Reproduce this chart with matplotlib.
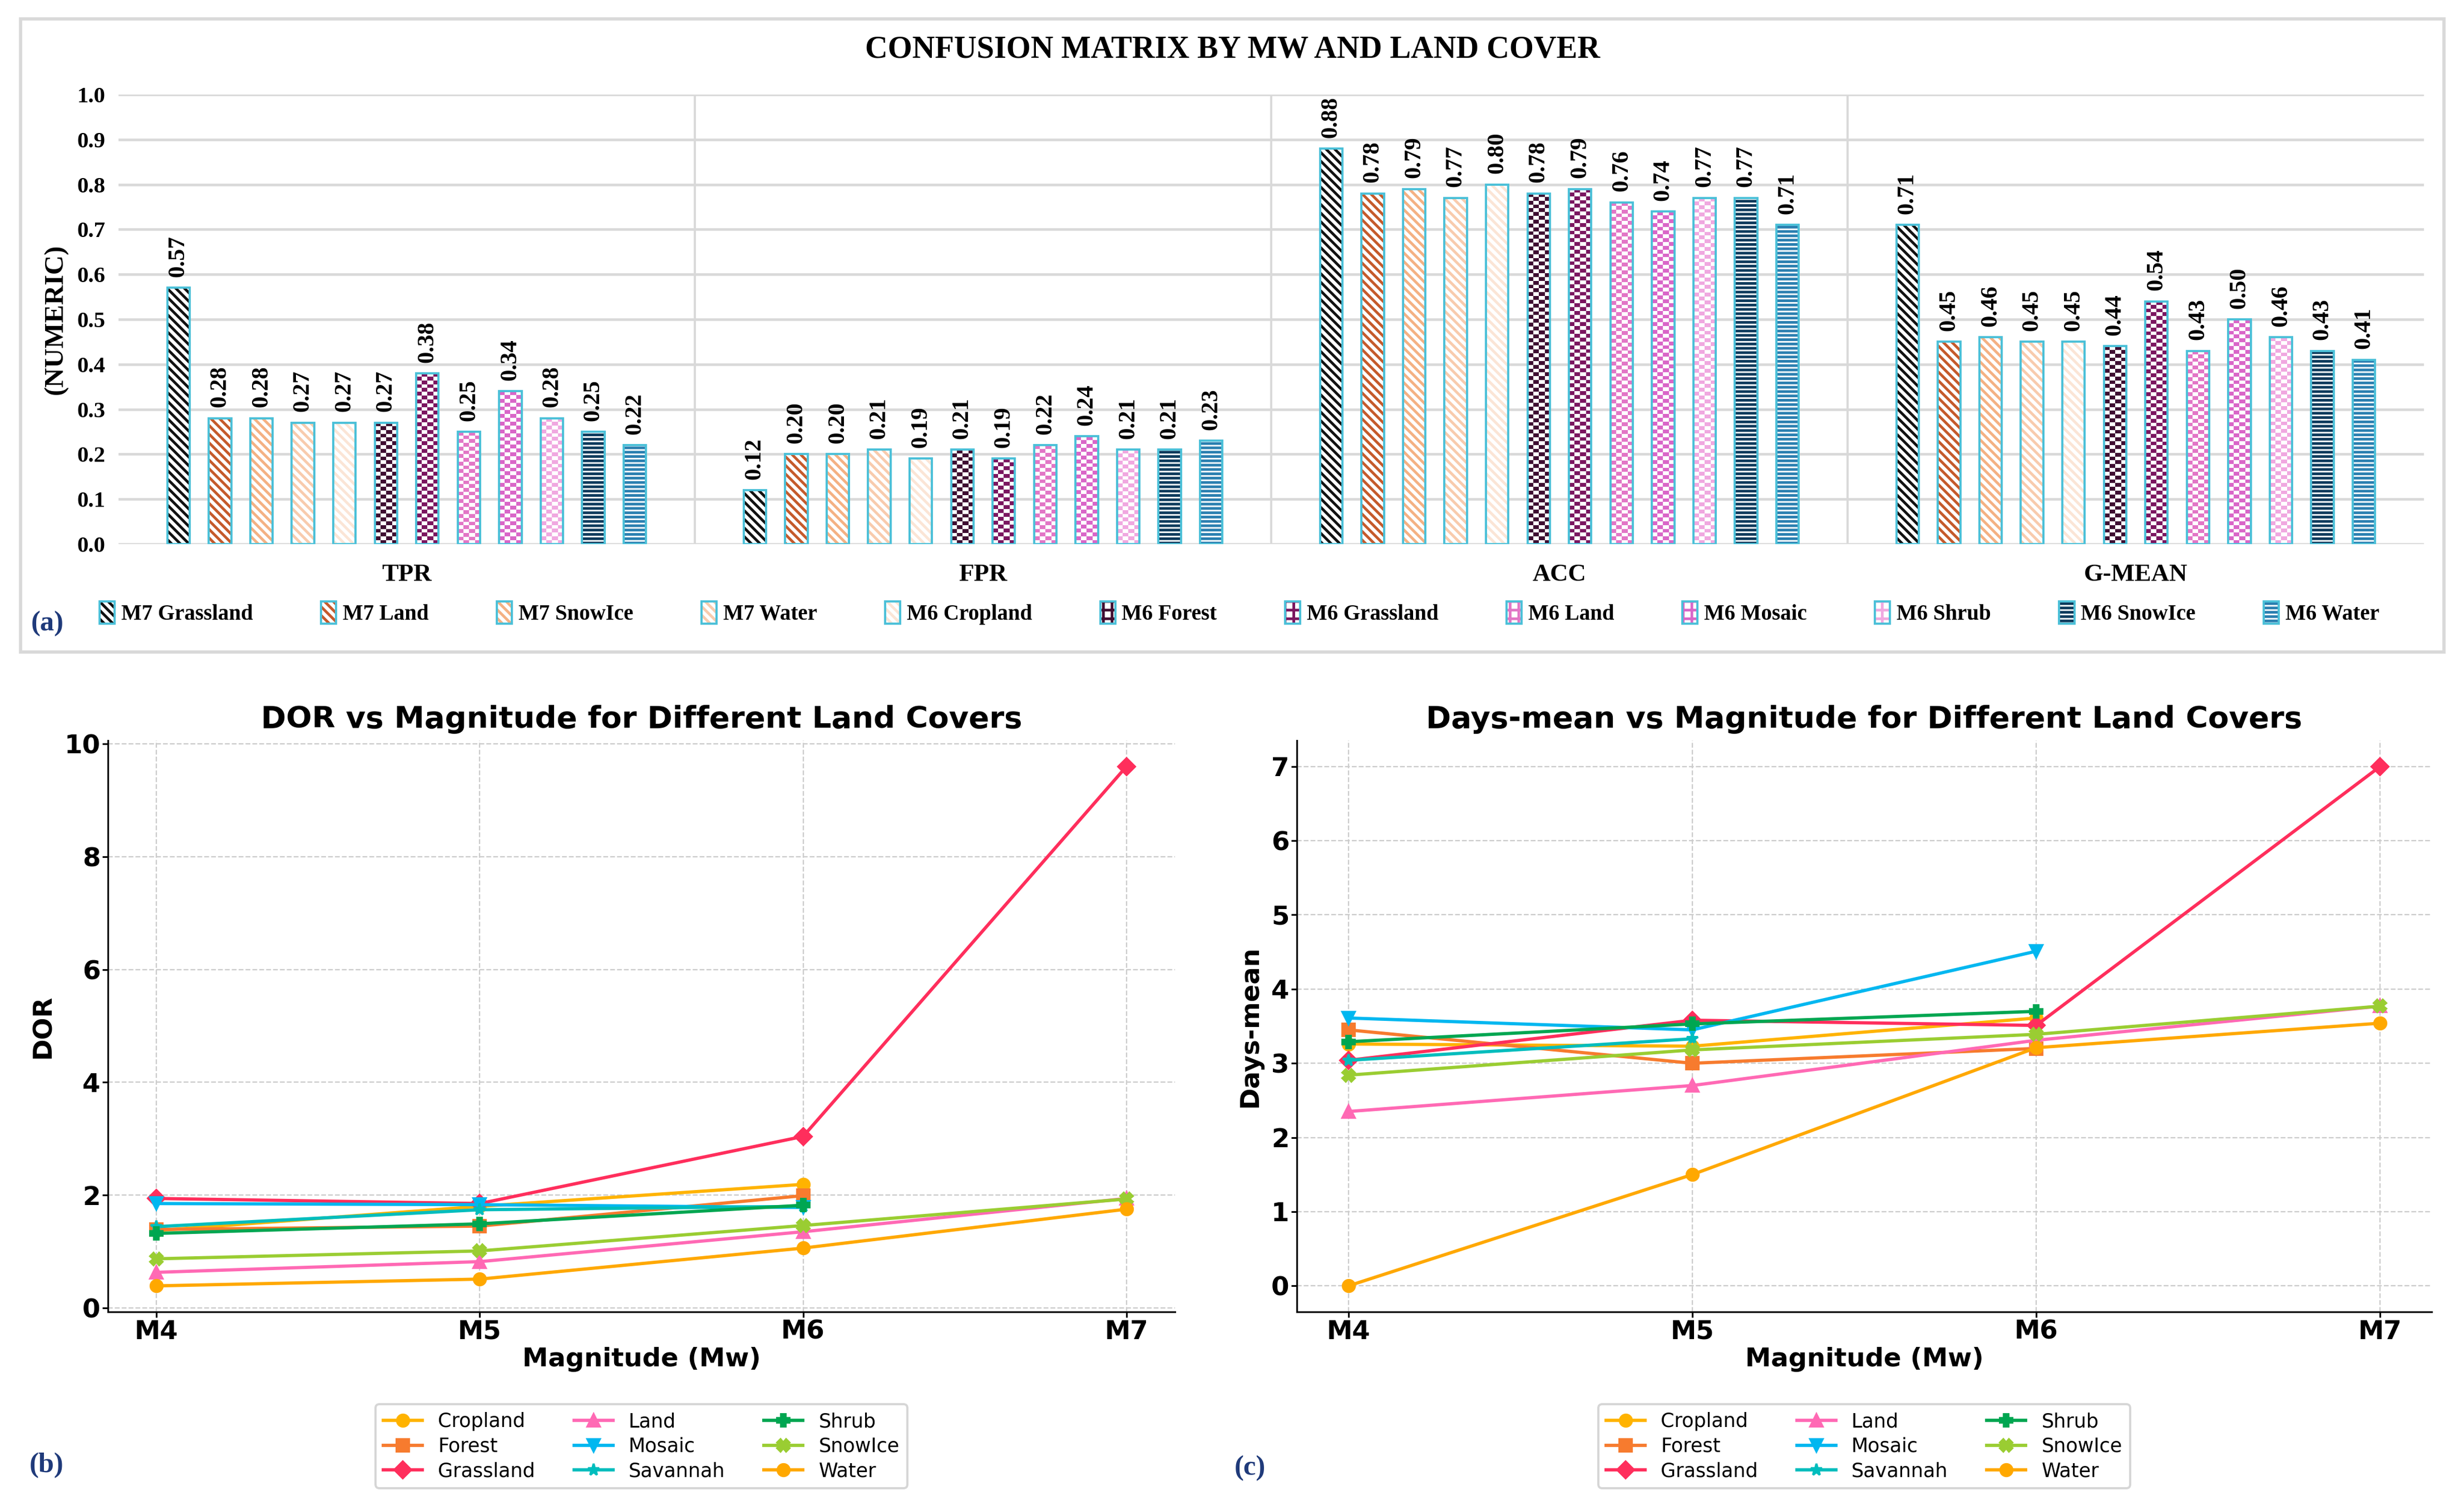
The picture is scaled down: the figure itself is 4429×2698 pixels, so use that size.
import numpy as np
import matplotlib
matplotlib.use('Agg')
import matplotlib.pyplot as plt
from matplotlib.colors import ListedColormap
from matplotlib.patches import Patch, Rectangle

plt.rcParams['hatch.linewidth'] = 1.25
plt.rcParams['font.family'] = ['DejaVu Sans']

W, H, DPI = 4429, 2698, 280

# ---------------- data: panel (a) ----------------
metrics = ['TPR', 'FPR', 'ACC', 'G-MEAN']
series = ['M7 Grassland', 'M7 Land', 'M7 SnowIce', 'M7 Water', 'M6 Cropland', 'M6 Forest',
          'M6 Grassland', 'M6 Land', 'M6 Mosaic', 'M6 Shrub', 'M6 SnowIce', 'M6 Water']
tpr = [0.57, 0.28, 0.28, 0.27, 0.27, 0.27, 0.38, 0.25, 0.34, 0.28, 0.25, 0.22]
fpr = [0.12, 0.20, 0.20, 0.21, 0.19, 0.21, 0.19, 0.22, 0.24, 0.21, 0.21, 0.23]
acc = [0.88, 0.78, 0.79, 0.77, 0.80, 0.78, 0.79, 0.76, 0.74, 0.77, 0.77, 0.71]
gmean = [0.71, 0.45, 0.46, 0.45, 0.45, 0.44, 0.54, 0.43, 0.50, 0.46, 0.43, 0.41]

bar_colors = ['#111111', '#C55A2B', '#F4B183', '#F8CBAD', '#FBE5D6', '#3F0D32',
              '#7B1560', '#E276C6', '#D966C8', '#F0A8E0', '#0D3A5C', '#2A7FB0']
diag = '\\' * 6
horiz = '-' * 6
bar_patterns = [diag, diag, diag, diag, diag, 'check',
                'check', 'check', 'check', 'check', horiz, horiz]

# ---------------- data: panels (b) and (c) ----------------
mags = ['M4', 'M5', 'M6', 'M7']
lands = ['Cropland', 'Forest', 'Grassland', 'Land', 'Mosaic', 'Savannah', 'Shrub', 'SnowIce', 'Water']
nan = np.nan
dor = {
    'Cropland': [1.37, 1.80, 2.19, nan],
    'Forest': [1.39, 1.45, 1.99, nan],
    'Grassland': [1.94, 1.85, 3.04, 9.60],
    'Land': [0.63, 0.82, 1.35, 1.94],
    'Mosaic': [1.85, 1.83, 1.78, nan],
    'Savannah': [1.44, 1.74, 1.80, nan],
    'Shrub': [1.32, 1.49, 1.82, nan],
    'SnowIce': [0.87, 1.01, 1.46, 1.93],
    'Water': [0.39, 0.51, 1.06, 1.75],
}
days_mean = {
    'Cropland': [3.26, 3.23, 3.61, nan],
    'Forest': [3.45, 3.00, 3.20, nan],
    'Grassland': [3.04, 3.58, 3.51, 7.00],
    'Land': [2.35, 2.70, 3.31, 3.77],
    'Mosaic': [3.61, 3.45, 4.51, nan],
    'Savannah': [3.04, 3.33, nan, nan],
    'Shrub': [3.29, 3.53, 3.70, nan],
    'SnowIce': [2.84, 3.18, 3.39, 3.77],
    'Water': [0.00, 1.50, 3.21, 3.54],
}
line_colors = {'Cropland': '#FFB300', 'Forest': '#F77B2E', 'Grassland': '#FF2E5C',
               'Land': '#FF69B4', 'Mosaic': '#00B7F0', 'Savannah': '#00BDBD',
               'Shrub': '#00A651', 'SnowIce': '#9ACD32', 'Water': '#FFA800'}
line_markers = {'Cropland': 'o', 'Forest': 's', 'Grassland': 'D', 'Land': '^', 'Mosaic': 'v',
                'Savannah': '*', 'Shrub': 'P', 'SnowIce': 'X', 'Water': 'o'}

edge_cyan = '#4BC0D8'
serif = 'Liberation Serif'
label_blue = '#1F3A7A'


def draw_checker(ax, x0, w, h, color, rows_per_unit=118, cols=4):
    nrows = max(1, int(round(h * rows_per_unit)))
    grid = np.indices((nrows, cols)).sum(axis=0) % 2
    ax.imshow(grid, cmap=ListedColormap(['white', color]), extent=(x0, x0 + w, 0, h),
              origin='lower', aspect='auto', interpolation='nearest', zorder=2)


fig = plt.figure(figsize=(W / DPI, H / DPI), dpi=DPI)

# ---------------- panel (a) ----------------
fig.add_artist(Rectangle((37 / W, 1 - 1172 / H), (4393 - 37) / W, (1172 - 34) / H,
                         transform=fig.transFigure, fill=False, ec='#D9D9D9', lw=1.5))

ax = fig.add_axes([213 / W, 1 - 978 / H, 4144 / W, 808 / H])
values = np.array([tpr, fpr, acc, gmean])
spacing, width = 0.072, 0.039
for k, name in enumerate(series):
    xs = np.arange(len(metrics)) + 0.5 + (k - 5.5) * spacing
    vals = values[:, k]
    if bar_patterns[k] == 'check':
        ax.bar(xs, vals, width, color='white', linewidth=0, zorder=2)
        for x, v in zip(xs, vals):
            draw_checker(ax, x - width / 2, width, v, bar_colors[k])
    else:
        ax.bar(xs, vals, width, color='white', edgecolor=bar_colors[k],
               hatch=bar_patterns[k], linewidth=0, zorder=2)
    ax.bar(xs, vals, width, fill=False, edgecolor=edge_cyan, linewidth=1.0, zorder=3)
    for x, v in zip(xs, vals):
        ax.annotate(f'{v:.2f}', (x, v), xytext=(0, 5), textcoords='offset points',
                    rotation=90, ha='center', va='bottom', fontsize=11,
                    fontfamily=serif, fontweight='bold')

ax.set_xlim(0, 4)
ax.set_ylim(0, 1.0)
ax.set_yticks(np.arange(0, 1.01, 0.1))
ax.set_yticklabels([f'{t:.1f}' for t in np.arange(0, 1.01, 0.1)],
                   fontfamily=serif, fontweight='bold', fontsize=10.5)
ax.set_xticks(np.arange(len(metrics)) + 0.5)
ax.set_xticklabels(metrics, fontfamily=serif, fontweight='bold', fontsize=11.5)
ax.set_xticks([1, 2, 3], minor=True)
ax.tick_params(axis='both', which='both', length=0)
ax.tick_params(axis='x', pad=9)
ax.tick_params(axis='y', pad=6)
ax.yaxis.grid(True, color='#D9D9D9', lw=1.2)
ax.xaxis.grid(True, which='minor', color='#D9D9D9', lw=1.0)
ax.set_axisbelow(True)
for s in ax.spines.values():
    s.set_visible(False)
ax.set_ylabel('(NUMERIC)', fontfamily=serif, fontweight='bold', fontsize=12.5, labelpad=4)

fig.text(0.5003, 1 - 90 / H, 'CONFUSION MATRIX BY MW AND LAND COVER', ha='center', va='center',
         fontfamily=serif, fontweight='bold', fontsize=14.5)

handles = []
for k in range(len(series)):
    pat = '+++' if bar_patterns[k] == 'check' else bar_patterns[k]
    handles.append((Patch(facecolor='white', edgecolor=bar_colors[k], hatch=pat, lw=0),
                    Patch(fill=False, edgecolor=edge_cyan, lw=1.0)))
fig.legend(handles, series, ncol=12, loc='center', bbox_to_anchor=(0.503, 1 - 1102 / H),
           frameon=False, prop={'family': serif, 'weight': 'bold', 'size': 10},
           handlelength=0.7, handleheight=1.2, handletextpad=0.3, columnspacing=3.15)
fig.text(85 / W, 1 - 1121 / H, '(a)', ha='center', va='center', color=label_blue,
         fontfamily=serif, fontweight='bold', fontsize=13)


# ---------------- panels (b) and (c) ----------------
def line_panel(ax, data, ylabel, title):
    x = np.arange(len(mags))
    for name in lands:
        ax.plot(x, data[name], color=line_colors[name], marker=line_markers[name],
                markersize=5.5, lw=1.5, label=name)
    ax.set_xticks(x)
    ax.set_xticklabels(mags)
    ax.grid(True, ls='--', color='#CCCCCC', lw=0.6)
    ax.spines['top'].set_visible(False)
    ax.spines['right'].set_visible(False)
    ax.tick_params(axis='both', length=2.5, pad=1)
    for t in ax.get_xticklabels() + ax.get_yticklabels():
        t.set_fontweight('bold')
        t.set_fontsize(12)
    ax.set_xlabel('Magnitude (Mw)', fontweight='bold', fontsize=12, labelpad=1)
    ax.set_ylabel(ylabel, fontweight='bold', fontsize=12, labelpad=4)
    ax.set_title(title, fontweight='bold', fontsize=14, pad=6)
    ax.legend(ncol=3, loc='upper center', bbox_to_anchor=(0.5, -0.145), fontsize=9,
              edgecolor='#CCCCCC', handlelength=2.0, columnspacing=2.0, labelspacing=0.3)


axb = fig.add_axes([194 / W, 1 - 2358 / H, (2112 - 194) / W, (2358 - 1331) / H])
line_panel(axb, dor, 'DOR', 'DOR vs Magnitude for Different Land Covers')
axc = fig.add_axes([2331 / W, 1 - 2358 / H, (4371 - 2331) / W, (2358 - 1331) / H])
line_panel(axc, days_mean, 'Days-mean', 'Days-mean vs Magnitude for Different Land Covers')

fig.text(84 / W, 1 - 2634 / H, '(b)', ha='center', va='center', color=label_blue,
         fontfamily=serif, fontweight='bold', fontsize=13)
fig.text(2247 / W, 1 - 2639 / H, '(c)', ha='center', va='center', color=label_blue,
         fontfamily=serif, fontweight='bold', fontsize=13)

fig.savefig('out.png', dpi=DPI)
